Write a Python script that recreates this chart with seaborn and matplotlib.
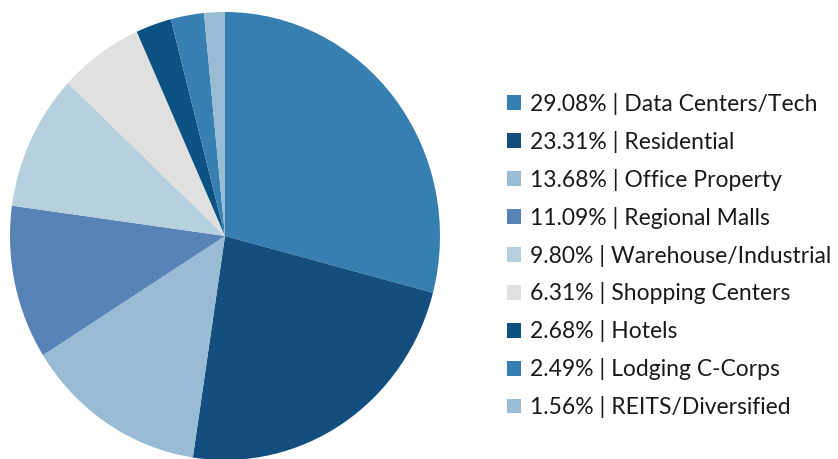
import matplotlib
matplotlib.use("Agg")
import matplotlib.pyplot as plt
import seaborn as sns
from matplotlib.patches import Patch

sectors = ["Data Centers/Tech", "Residential", "Office Property", "Regional Malls",
           "Warehouse/Industrial", "Shopping Centers", "Hotels", "Lodging C-Corps",
           "REITS/Diversified"]
shares = [29.08, 23.31, 13.68, 11.09, 9.80, 6.31, 2.68, 2.49, 1.56]
colors = ["#377fb1", "#134e7e", "#97bcd3", "#5783b7", "#b6d1de",
          "#e0e0e0", "#0b5283", "#377fb1", "#97bcd3"]

sns.set_style("white")
plt.rcParams['font.family'] = ['Lato', 'DejaVu Sans']

W, H = 838, 459
fig = plt.figure(figsize=(W / 100, H / 100), dpi=100)

# pie axes (a touch taller than wide, like the original)
ax = fig.add_axes([10 / W, 1 - 460 / H, 430 / W, 448 / H])
ax.pie(shares, colors=colors, startangle=90, counterclock=False,
       wedgeprops=dict(linewidth=0))
ax.set_aspect('auto')
ax.set_xlim(-1, 1)
ax.set_ylim(-1, 1)
ax.axis('off')

labels = [f"{v:.2f}% | {s}" for v, s in zip(shares, sectors)]
handles = [Patch(facecolor=c, edgecolor='none') for c in colors]
fig.legend(handles, labels, loc='center left', bbox_to_anchor=(507 / W, 1 - 255.5 / H),
           frameon=False, fontsize=16.5, handlelength=0.61, handleheight=0.61,
           handletextpad=0.38, labelspacing=0.695, borderpad=0, borderaxespad=0,
           labelcolor='#1a1a1a')

fig.savefig("out.png", dpi=100)
